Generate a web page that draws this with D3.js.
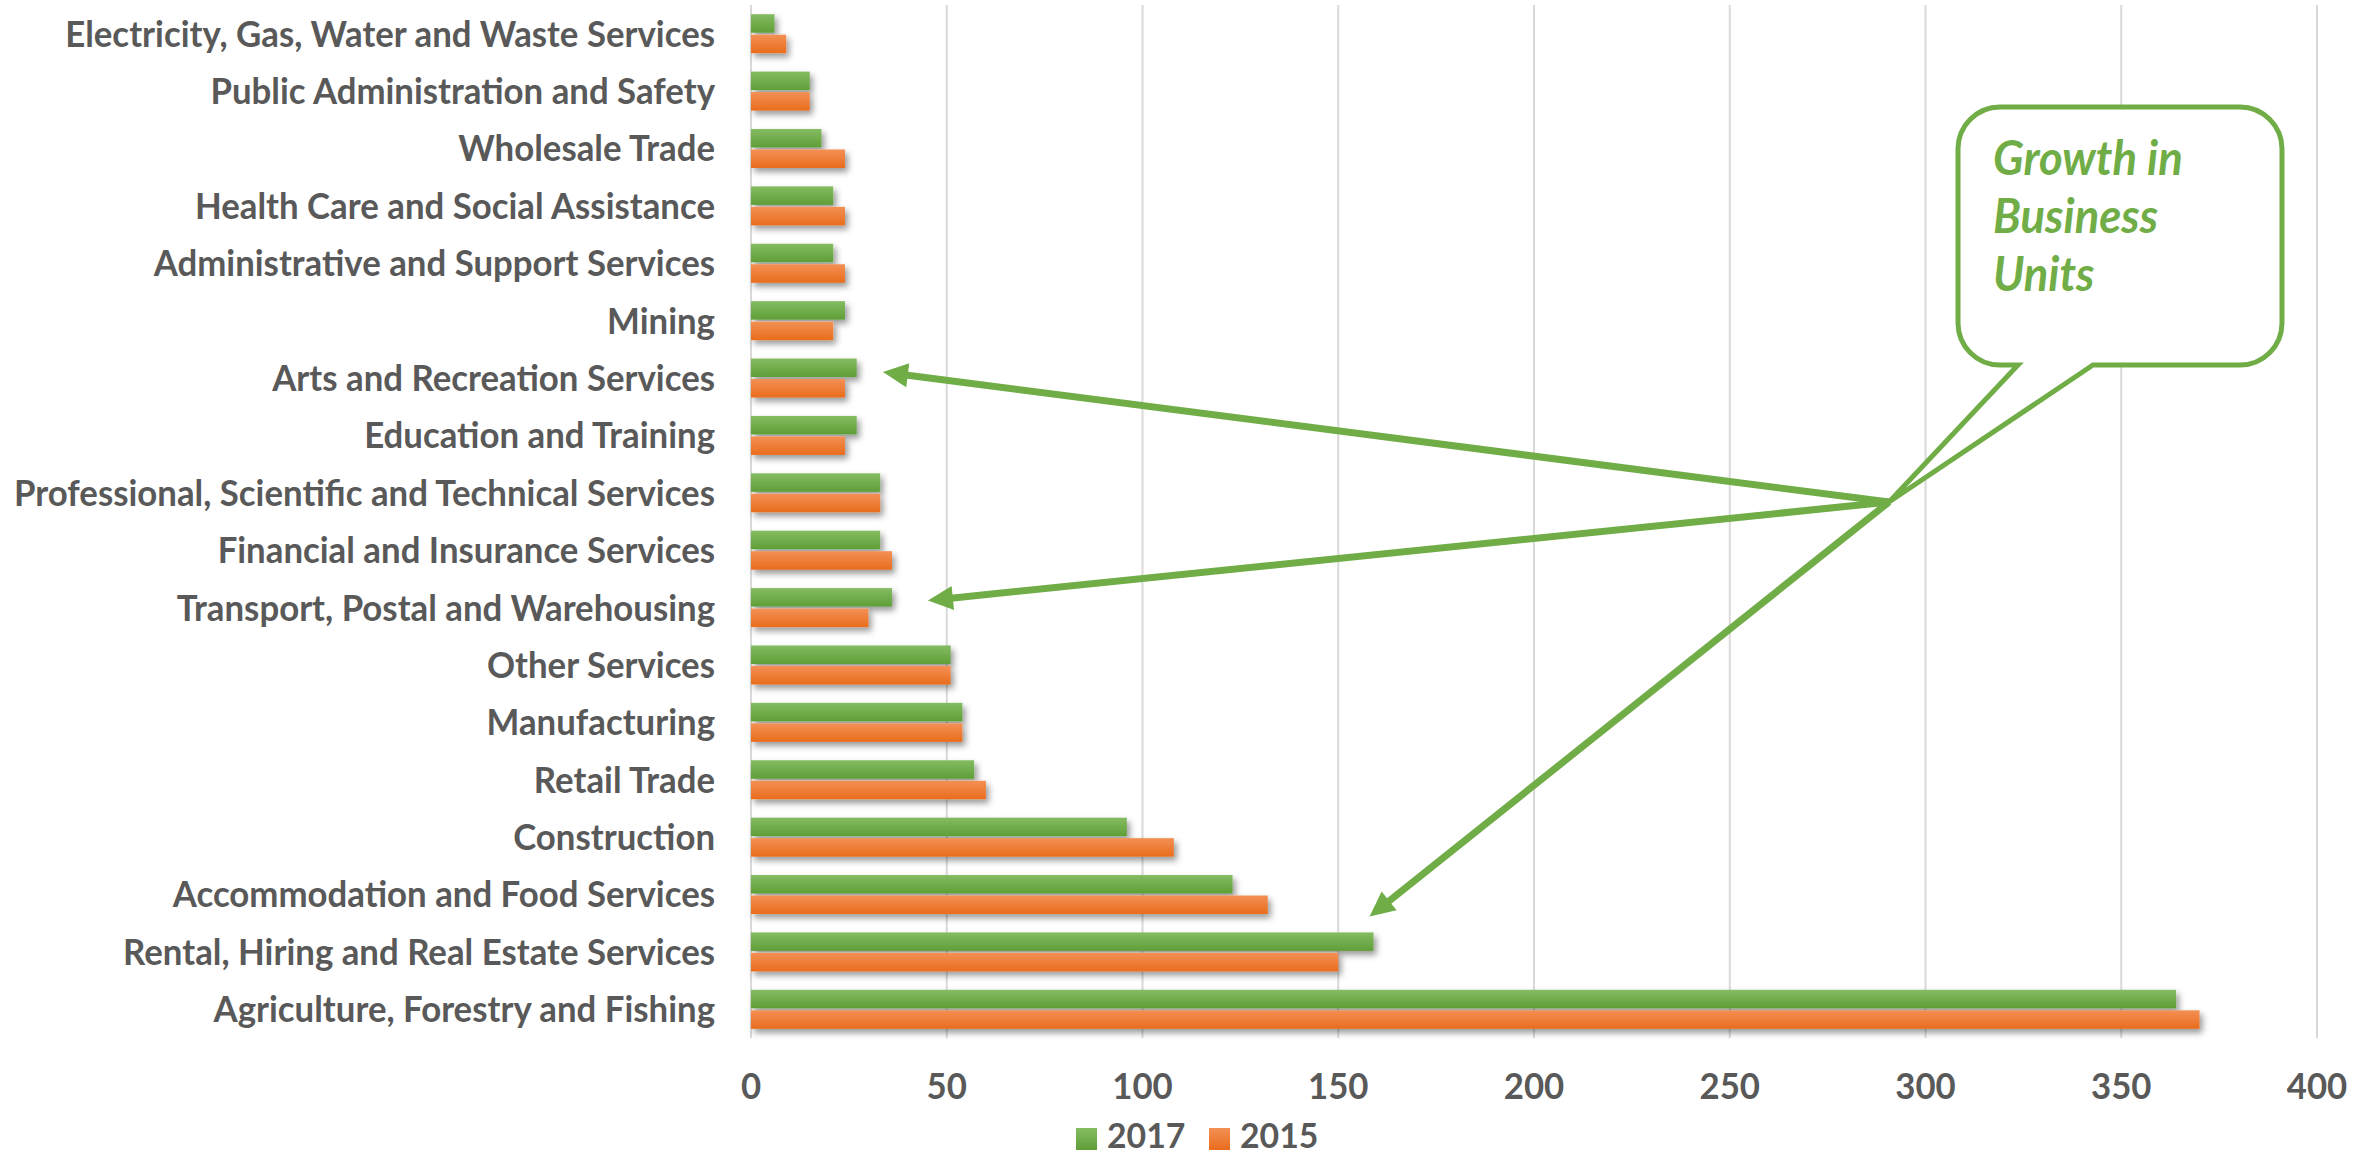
<!DOCTYPE html>
<html>
<head>
<meta charset="utf-8">
<script src="https://cdn.jsdelivr.net/npm/d3@7"></script>
<style>
  html, body { margin: 0; padding: 0; background: #fff; }
  svg { display: block; }
  text { font-family: Lato, "Open Sans", sans-serif; font-weight: bold; }
</style>
</head>
<body>
<svg id="chart" width="2376" height="1156"></svg>
<script>
// ---------- data ----------
const categories = [
  "Electricity, Gas, Water and Waste Services",
  "Public Administration and Safety",
  "Wholesale Trade",
  "Health Care and Social Assistance",
  "Administrative and Support Services",
  "Mining",
  "Arts and Recreation Services",
  "Education and Training",
  "Professional, Scientific and Technical Services",
  "Financial and Insurance Services",
  "Transport, Postal and Warehousing",
  "Other Services",
  "Manufacturing",
  "Retail Trade",
  "Construction",
  "Accommodation and Food Services",
  "Rental, Hiring and Real Estate Services",
  "Agriculture, Forestry and Fishing"
];
const seriesNames = ["2017", "2015"];
const values2017 = [6, 15, 18, 21, 21, 24, 27, 27, 33, 33, 36, 51, 54, 57, 96, 123, 159, 364];
const values2015 = [9, 15, 24, 24, 24, 21, 24, 24, 33, 36, 30, 51, 54, 60, 108, 132, 150, 370];
const xTicks = [0, 50, 100, 150, 200, 250, 300, 350, 400];
const calloutLines = ["Growth in", "Business", "Units"];
const arrowTargets = ["Arts and Recreation Services", "Transport, Postal and Warehousing", "Accommodation and Food Services"];

// ---------- layout ----------
const W = 2376, H = 1156;
const plot = { left: 751, right: 2317, top: 5, bottom: 1038 };
const textColor = "#595959";
const green = "#70AD47", orange = "#ED7D31";
const fontSize = 36;

const svg = d3.select("#chart");
const defs = svg.append("defs");

function grad(id, top, bottom) {
  const g = defs.append("linearGradient").attr("id", id)
    .attr("x1", 0).attr("y1", 0).attr("x2", 0).attr("y2", 1);
  g.append("stop").attr("offset", "0%").attr("stop-color", top);
  g.append("stop").attr("offset", "100%").attr("stop-color", bottom);
}
grad("gGreen", "#84BC62", "#5F9E37");
grad("gOrange", "#F39055", "#E96C1C");
const f = defs.append("filter").attr("id", "shadow")
  .attr("x", "-5%").attr("y", "-50%").attr("width", "115%").attr("height", "250%");
f.append("feDropShadow").attr("dx", 3).attr("dy", 4).attr("stdDeviation", 3)
  .attr("flood-color", "#000").attr("flood-opacity", 0.4);

const x = d3.scaleLinear().domain([0, 400]).range([plot.left, plot.right]);
const y = d3.scaleBand().domain(categories).range([plot.top, plot.bottom]).padding(0);
const barH = 18.5, barGap = 2;

// gridlines
svg.append("g").selectAll("line").data(xTicks).join("line")
  .attr("x1", d => x(d)).attr("x2", d => x(d))
  .attr("y1", plot.top).attr("y2", plot.bottom)
  .attr("stroke", "#D9D9D9").attr("stroke-width", 2);

// bars
const rows = categories.map((c, i) => ({ c, v17: values2017[i], v15: values2015[i] }));
const bars = svg.append("g").attr("filter", "url(#shadow)");
const yc = c => y(c) + y.bandwidth() / 2;
bars.selectAll("rect.g17").data(rows).join("rect").attr("class", "g17")
  .attr("x", x(0)).attr("width", d => x(d.v17) - x(0))
  .attr("y", d => yc(d.c) - barGap / 2 - barH).attr("height", barH)
  .attr("fill", "url(#gGreen)");
bars.selectAll("rect.g15").data(rows).join("rect").attr("class", "g15")
  .attr("x", x(0)).attr("width", d => x(d.v15) - x(0))
  .attr("y", d => yc(d.c) + barGap / 2).attr("height", barH)
  .attr("fill", "url(#gOrange)");

// horizontal compression so the substitute font matches the narrow original widths
const probe = svg.append("text").attr("font-size", fontSize).text(categories[0]);
const sx = Math.min(1, 650 / probe.node().getComputedTextLength());
probe.remove();

// category labels
svg.append("g").selectAll("text").data(categories).join("text")
  .attr("transform", d => `translate(715,${yc(d)}) scale(${sx},1)`)
  .attr("text-anchor", "end").attr("dy", "0.36em")
  .attr("font-size", fontSize).attr("fill", textColor)
  .text(d => d);

// x tick labels
svg.append("g").selectAll("text").data(xTicks).join("text")
  .attr("transform", d => `translate(${x(d)},1099) scale(${sx},1)`)
  .attr("text-anchor", "middle")
  .attr("font-size", fontSize).attr("fill", textColor)
  .text(d => d);

// legend
const legend = svg.append("g");
const legendItems = [
  { name: seriesNames[0], fill: "url(#gGreen)", x: 1076 },
  { name: seriesNames[1], fill: "url(#gOrange)", x: 1209 }
];
legendItems.forEach(it => {
  legend.append("rect").attr("x", it.x).attr("y", 1128).attr("width", 21).attr("height", 22).attr("fill", it.fill);
  legend.append("text").attr("transform", `translate(${it.x + 31},1148) scale(${sx},1)`)
    .attr("font-size", 35).attr("fill", textColor).text(it.name);
});

// callout
const apex = [1889, 502];
const bx0 = 1958, bx1 = 2282, by0 = 107, by1 = 365, r = 42;
const tailL = 2018, tailR = 2093;
const p = d3.path();
p.moveTo(bx0 + r, by0);
p.lineTo(bx1 - r, by0);
p.arcTo(bx1, by0, bx1, by0 + r, r);
p.lineTo(bx1, by1 - r);
p.arcTo(bx1, by1, bx1 - r, by1, r);
p.lineTo(tailR, by1);
p.lineTo(apex[0], apex[1]);
p.lineTo(tailL, by1);
p.lineTo(bx0 + r, by1);
p.arcTo(bx0, by1, bx0, by1 - r, r);
p.lineTo(bx0, by0 + r);
p.arcTo(bx0, by0, bx0 + r, by0, r);
p.closePath();
svg.append("path").attr("d", p.toString())
  .attr("fill", "#fff").attr("stroke", green).attr("stroke-width", 5).attr("stroke-linejoin", "miter");

svg.append("g").selectAll("text").data(calloutLines).join("text")
  .attr("transform", (d, i) => `translate(1993,${175 + i * 58}) scale(${sx},1)`)
  .attr("font-size", 47).attr("font-style", "italic").attr("font-weight", 900).attr("fill", green)
  .text(d => d);

// arrows
const tips = [
  [x(33.7), yc(arrowTargets[0]) - 6],
  [x(45.2), yc(arrowTargets[1]) - 7],
  [x(158), yc(arrowTargets[2]) + 22]
];
const ag = svg.append("g");
const headLen = 25, headW = 24, lw = 7;
tips.forEach(t => {
  const dx = t[0] - apex[0], dy = t[1] - apex[1];
  const L = Math.hypot(dx, dy), ux = dx / L, uy = dy / L;
  const bxp = t[0] - ux * headLen, byp = t[1] - uy * headLen;
  ag.append("line").attr("x1", apex[0]).attr("y1", apex[1])
    .attr("x2", bxp + ux * 2).attr("y2", byp + uy * 2)
    .attr("stroke", green).attr("stroke-width", lw);
  const nx = -uy, ny = ux;
  ag.append("polygon")
    .attr("points", [[t[0], t[1]], [bxp + nx * headW / 2, byp + ny * headW / 2], [bxp - nx * headW / 2, byp - ny * headW / 2]].map(q => q.join(",")).join(" "))
    .attr("fill", green);
});
</script>
</body>
</html>
